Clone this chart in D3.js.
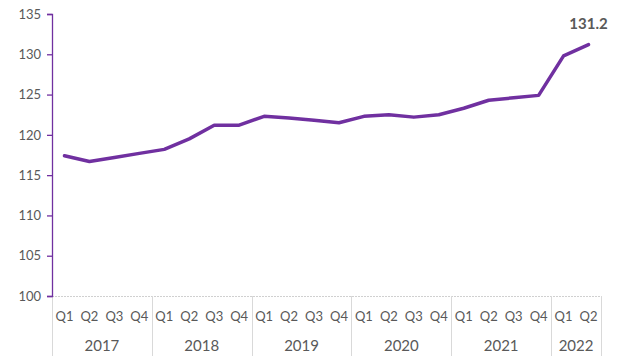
<!DOCTYPE html>
<html>
<head>
<meta charset="utf-8">
<script src="https://cdn.jsdelivr.net/npm/d3@7"></script>
<style>
body{margin:0;background:#fff;}
text{font-family:Lato,"Liberation Sans",sans-serif;fill:#595959;}
</style>
</head>
<body>
<svg id="chart" width="622" height="359"></svg>
<script>
// data
var years=["2017","2018","2019","2020","2021","2022"];
var quartersPerYear=[4,4,4,4,4,2];
var quarterLabels=["Q1","Q2","Q3","Q4"];
var values=[117.4,116.7,117.2,117.7,118.2,119.5,121.2,121.2,122.3,122.1,121.8,121.5,122.3,122.5,122.2,122.5,123.3,124.3,124.6,124.9,129.8,131.2];
var yTicks=[100,105,110,115,120,125,130,135];

var margin={left:52,right:21,top:14,bottom:63};
var W=622,H=359;
var svg=d3.select("#chart");

// build category keys
var cats=[];
years.forEach(function(y,i){
	for(var q=0;q<quartersPerYear[i];q++){ cats.push({year:y,q:quarterLabels[q],key:y+"-"+quarterLabels[q]}); }
});

var x=d3.scaleBand()
	.domain(cats.map(function(d){return d.key;}))
	.range([margin.left,W-margin.right]);
var y=d3.scaleLinear()
	.domain([100,135])
	.range([H-margin.bottom,margin.top]);

var y0=H-margin.bottom;

// x axis base line (light dotted) + separators
svg.append("line")
	.attr("x1",margin.left).attr("x2",W-margin.right)
	.attr("y1",y0+0.5).attr("y2",y0+0.5)
	.attr("stroke","#d0d0d0")
	.attr("stroke-dasharray","2,1");

var idx=0, bounds=[];
years.forEach(function(yr,i){
	var first=cats[idx], last=cats[idx+quartersPerYear[i]-1];
	bounds.push({year:yr,x0:x(first.key),x1:x(last.key)+x.bandwidth()});
	idx+=quartersPerYear[i];
});
var sepX=[bounds[0].x0].concat(bounds.map(function(b){return b.x1;}));
svg.selectAll(".sep").data(sepX).enter().append("line")
	.attr("class","sep")
	.attr("x1",function(d){return Math.round(d)+0.5;}).attr("x2",function(d){return Math.round(d)+0.5;})
	.attr("y1",y0).attr("y2",H-3)
	.attr("stroke","#d9d9d9");

// y axis (purple)
var yAxis=svg.append("g")
	.attr("transform","translate("+margin.left+",0)")
	.call(d3.axisLeft(y).tickValues(yTicks).tickSize(5).tickPadding(6).tickFormat(d3.format("d")));
yAxis.selectAll("path,line").attr("stroke","#7030A0").attr("stroke-width",1.3);
yAxis.selectAll("text").style("font-size","13px").attr("fill","#595959");

// quarter labels
svg.selectAll(".qlab").data(cats).enter().append("text")
	.attr("class","qlab")
	.attr("x",function(d){return x(d.key)+x.bandwidth()/2;})
	.attr("y",y0+25)
	.attr("text-anchor","middle")
	.style("font-size","13px")
	.text(function(d){return d.q;});

// year labels
svg.selectAll(".ylab").data(bounds).enter().append("text")
	.attr("class","ylab")
	.attr("x",function(d){return (d.x0+d.x1)/2;})
	.attr("y",y0+55)
	.attr("text-anchor","middle")
	.style("font-size","15px")
	.text(function(d){return d.year;});

// line
var line=d3.line()
	.x(function(d,i){return x(cats[i].key)+x.bandwidth()/2;})
	.y(function(d){return y(d);});
svg.append("path")
	.datum(values)
	.attr("d",line)
	.attr("fill","none")
	.attr("stroke","#7030A0")
	.attr("stroke-width",3.5)
	.attr("stroke-linejoin","round")
	.attr("stroke-linecap","round");

// last value label
var lastI=values.length-1;
svg.append("text")
	.attr("x",x(cats[lastI].key)+x.bandwidth()/2)
	.attr("y",y(values[lastI])-16)
	.attr("text-anchor","middle")
	.style("font-size","15px")
	.style("font-weight","bold")
	.attr("fill","#404040")
	.text(values[lastI].toFixed(1));
</script>
</body>
</html>
